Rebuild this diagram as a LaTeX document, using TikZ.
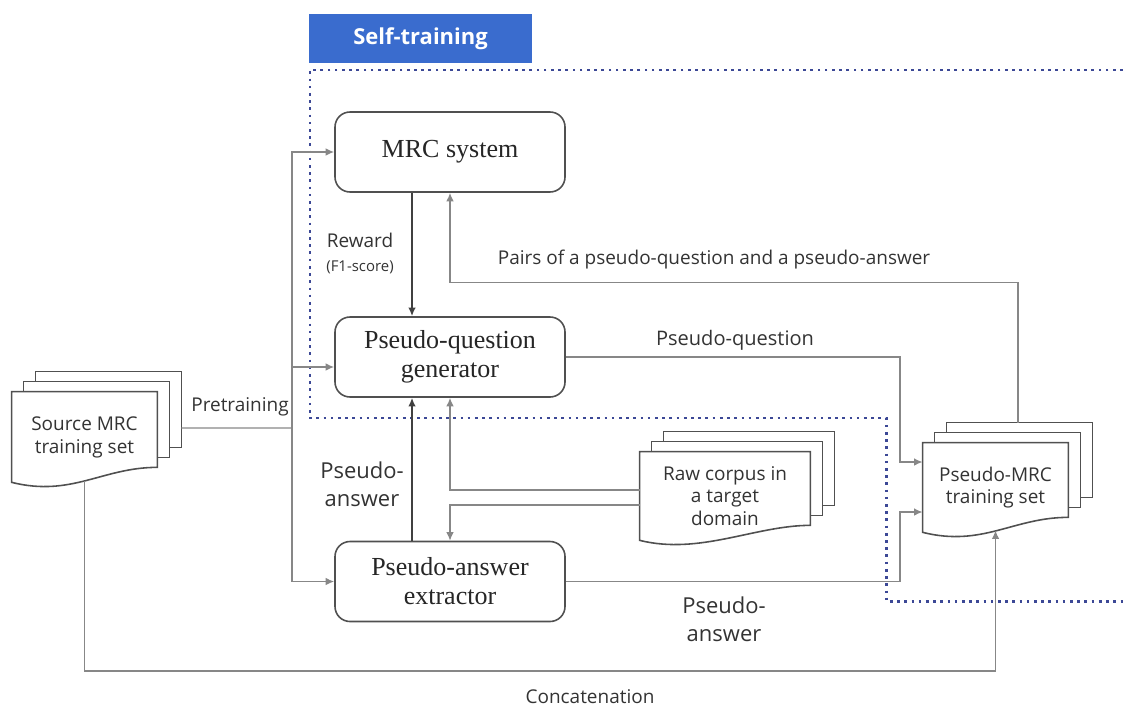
\documentclass[tikz,border=0pt]{standalone}
\usepackage{fontspec}
\setmainfont{Liberation Serif}
\setsansfont{Open Sans}
\usetikzlibrary{positioning,backgrounds,arrows.meta}

\definecolor{tabblue}{RGB}{58,108,206}
\definecolor{dotblue}{RGB}{60,72,150}
\definecolor{linegray}{RGB}{135,135,135}
\definecolor{boxgray}{RGB}{80,80,80}

\tikzset{
  module/.style={draw=boxgray, line width=0.9pt, rounded corners=0.3cm, fill=white,
    minimum width=4.6cm, minimum height=1.6cm, align=center,
    font=\fontsize{14.8}{16.5}\selectfont, text=black!85},
  doc/.style={minimum height=1.8cm, inner sep=0pt, align=center,
    font=\sffamily\fontsize{10.8}{13}\selectfont, text=black!80},
  page/.style={draw=boxgray, line width=0.9pt, fill=white},
  conn/.style={draw=linegray, line width=0.8pt},
  feed/.style={draw=black!75, line width=1.1pt},
  tip/.style={-{Latex[length=1.7mm,width=1.5mm]}},
  lbl/.style={font=\sffamily\fontsize{10.8}{15.5}\selectfont, text=black!80, align=center},
  biglbl/.style={lbl, font=\sffamily\fontsize{12.5}{16}\selectfont},
}

% three stacked pages behind a document node
\newcommand{\docpages}[1]{%
  \begin{scope}[on background layer]
    \filldraw[page] ([shift={(0.48,0.7)}]#1.south west) rectangle ([shift={(0.48,0.4)}]#1.north east);
    \filldraw[page] ([shift={(0.24,0.5)}]#1.south west) rectangle ([shift={(0.24,0.2)}]#1.north east);
    \filldraw[page] (#1.south west) -- (#1.north west) -- (#1.north east) -- ([yshift=0.3cm]#1.south east)
      .. controls +(-1.1,0) and +(1.2,-0.3) .. (#1.south west) -- cycle;
  \end{scope}}

\begin{document}
\begin{tikzpicture}
\useasboundingbox (0,0) rectangle (22.5,14.22);

% self-training region
\draw[dotblue, line width=1.7pt, dash pattern=on 1.5pt off 2.6pt]
  (22.6,12.82) -- (6.2,12.82) -- (6.2,5.86) -- (17.72,5.86) -- (17.72,2.2) -- (22.6,2.2);
\node[fill=tabblue, minimum width=4.46cm, minimum height=0.98cm, text=white,
  font=\sffamily\bfseries\fontsize{12.5}{14}\selectfont] (self) at (8.41,13.45) {Self-training};

\node[module] (mrc) at (9,11.18) {MRC system};
\node[module] (pqg) at (9,7.08) {Pseudo-question\\generator};
\node[module] (pae) at (9,2.59) {Pseudo-answer\\extractor};

\node[doc, minimum width=2.9cm] (src) at (1.69,5.48) {Source MRC\\training set};
\docpages{src}
\node[doc, minimum width=3.4cm, minimum height=1.76cm] (raw) at (14.5,4.3) {Raw corpus in\\a target\\domain};
\docpages{raw}
\node[doc, minimum width=2.9cm, minimum height=1.78cm] (pmrc) at (19.91,4.47) {Pseudo-MRC\\training set};
\docpages{pmrc}

% pretraining
\coordinate (split) at (5.84,5.66);
\draw[conn] ([shift={(0.48,0.18)}]src.east) -- (split);
\draw[conn,tip] (split) |- (mrc.west);
\draw[conn,tip] (split) |- ([yshift=-0.2cm]pqg.west);
\draw[conn,tip] (split) |- (pae.west);
\node[lbl] (pre) at (4.8,6.08) {Pretraining};

% reward and pseudo-answer
\draw[feed,tip] ([xshift=-0.76cm]mrc.south) -- ([xshift=-0.76cm]pqg.north);
\node[lbl] (reward) at (7.2,9.42) {Reward};
\node[lbl, font=\sffamily\fontsize{8.5}{10}\selectfont, below=0.02cm of reward] (f1) {(F1-score)};
\draw[feed,tip] ([xshift=-0.76cm]pae.north) -- ([xshift=-0.76cm]pqg.south);
\node[biglbl] (pa1) at (7.24,4.54) {Pseudo-\\answer};

% raw corpus
\draw[conn,tip] ([yshift=0.12cm]raw.west) -| (pqg.south);
\draw[conn,tip] ([yshift=-0.18cm]raw.west) -| (pae.north);

% towards the pseudo-MRC training set
\draw[conn,tip] (pqg.east) -- (18,7.08) |- ([yshift=0.51cm]pmrc.west);
\node[lbl, font=\sffamily\fontsize{11.4}{15.5}\selectfont] (pq) at (14.7,7.42) {Pseudo-question};
\draw[conn,tip] (pae.east) -- (18,2.59) |- ([yshift=-0.49cm]pmrc.west);
\node[biglbl] (pa2) at (14.48,1.84) {Pseudo-\\answer};
\draw[conn,tip] ([shift={(0.45,0.4)}]pmrc.north) -- ++(0,2.8) -| (mrc.south);
\node[lbl] (pairs) at (14.28,9.02) {Pairs of a pseudo-question and a pseudo-answer};

% concatenation
\draw[conn,tip] ([yshift=0.03cm]src.south) -- ++(0,-3.8) -| ([yshift=0.04cm]pmrc.south);
\node[lbl] (concat) at (11.8,0.28) {Concatenation};
\end{tikzpicture}
\end{document}
